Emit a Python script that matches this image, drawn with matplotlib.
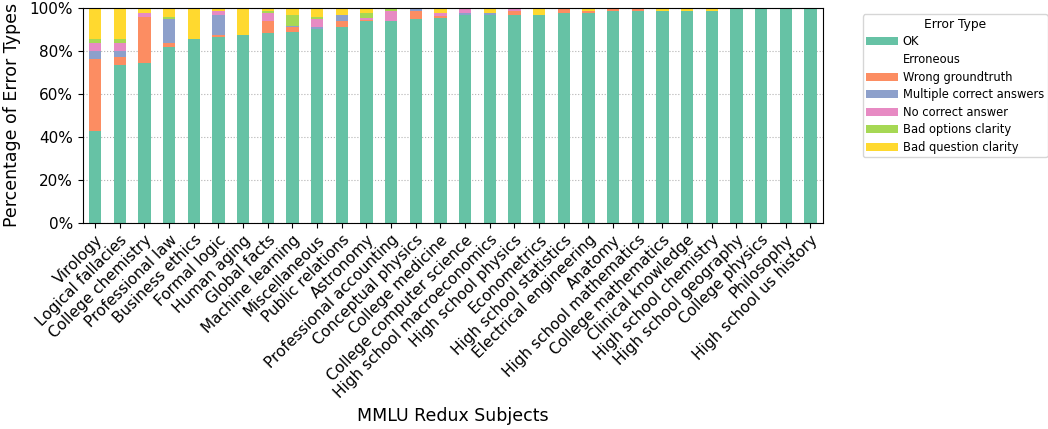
import numpy as np
import pandas as pd
import matplotlib
matplotlib.use('Agg')
import matplotlib.pyplot as plt
from matplotlib.patches import Patch
from matplotlib.ticker import PercentFormatter

###############################################################################
#                                data
###############################################################################
subjects = [
    'Virology', 'Logical fallacies', 'College chemistry', 'Professional law',
    'Business ethics', 'Formal logic', 'Human aging', 'Global facts',
    'Machine learning', 'Miscellaneous', 'Public relations', 'Astronomy',
    'Professional accounting', 'Conceptual physics', 'College medicine',
    'College computer science', 'High school macroeconomics',
    'High school physics', 'Econometrics', 'High school statistics',
    'Electrical engineering', 'Anatomy', 'High school mathematics',
    'College mathematics', 'Clinical knowledge', 'High school chemistry',
    'High school geography', 'College physics', 'Philosophy',
    'High school us history',
]

ok = [42.8, 73.6, 74.5, 82.0, 85.7, 86.6, 87.6, 88.2, 89.1, 90.2,
      91.0, 93.8, 93.8, 94.8, 95.6, 96.9, 96.9, 96.9, 96.9, 97.8,
      97.8, 98.8, 98.8, 98.8, 98.8, 98.8, 100, 100, 100, 100]
wrong_groundtruth = [33.3, 3.4, 21.5, 1.9, 0, 0.9, 0, 5.6, 1.9, 0,
                     2.8, 0.9, 0, 4.0, 0.9, 0, 0, 1.9, 0, 2.2,
                     0.9, 1.2, 1.2, 0, 0, 0, 0, 0, 0, 0]
multiple_correct = [3.7, 2.8, 0, 10.9, 0, 9.3, 0, 0, 0.9, 0.9,
                    3.1, 0, 0, 1.2, 0, 0.9, 0.9, 0, 0, 0,
                    0, 0, 0, 0, 0, 0, 0, 0, 0, 0]
no_correct = [4.0, 4.0, 1.9, 0, 0, 1.9, 0, 4.0, 0, 3.7,
              0, 0.9, 5.0, 0, 1.2, 2.2, 0, 1.2, 0, 0,
              0, 0, 0, 0, 0, 0, 0, 0, 0, 0]
bad_options = [1.9, 1.9, 0, 1.2, 0, 0, 0, 0.9, 5.0, 1.2,
               0, 2.2, 1.2, 0, 0, 0, 0, 0, 0, 0,
               0, 0, 0, 0, 0, 0, 0, 0, 0, 0]
bad_question = [14.3, 14.3, 2.2, 4.0, 14.3, 1.2, 12.4, 1.2, 3.1, 4.0,
                3.1, 2.2, 0, 0, 2.2, 0, 2.2, 0, 3.1, 0,
                1.2, 0, 0, 1.2, 1.2, 1.2, 0, 0, 0, 0]

error_types = ['OK', 'Wrong groundtruth', 'Multiple correct answers',
               'No correct answer', 'Bad options clarity', 'Bad question clarity']

df = pd.DataFrame({
    'OK': ok,
    'Wrong groundtruth': wrong_groundtruth,
    'Multiple correct answers': multiple_correct,
    'No correct answer': no_correct,
    'Bad options clarity': bad_options,
    'Bad question clarity': bad_question,
}, index=subjects)

###############################################################################
#                                figure
###############################################################################
colors = ['#66c2a5', '#fc8d62', '#8da0cb', '#e78ac3', '#a6d854', '#ffd92f']

fig, ax = plt.subplots(figsize=(10.48, 4.29), dpi=100)
fig.subplots_adjust(left=0.079, right=0.785, top=0.981, bottom=0.481)

df[error_types].plot(kind='bar', stacked=True, color=colors, width=0.5,
                     ax=ax, legend=False)

ax.set_ylim(0, 100)
ax.yaxis.set_major_formatter(PercentFormatter(decimals=0))
ax.set_axisbelow(True)
ax.yaxis.grid(True, linestyle=':', color='gray', alpha=0.6)

ax.set_ylabel('Percentage of Error Types', fontsize=12.5, labelpad=6)
ax.set_xlabel('MMLU Redux Subjects', fontsize=12.5)
ax.tick_params(axis='y', labelsize=11)
ax.set_xticklabels(subjects, rotation=45, ha='right', fontsize=11,
                   rotation_mode='anchor')

# legend with an empty "Erroneous" entry
handles = [Patch(facecolor=colors[0], label='OK'),
           Patch(facecolor='none', edgecolor='none', label='Erroneous')]
handles += [Patch(facecolor=c, label=l) for c, l in zip(colors[1:], error_types[1:])]
fig.legend(handles=handles, title='Error Type', loc='upper left',
           bbox_to_anchor=(0.8235, 0.9667), fontsize=8.3, title_fontsize=8.8,
           handlelength=2.75, handletextpad=0.4, labelspacing=0.4,
           borderpad=0.3, borderaxespad=0)

fig.savefig('out.png', dpi=100)
